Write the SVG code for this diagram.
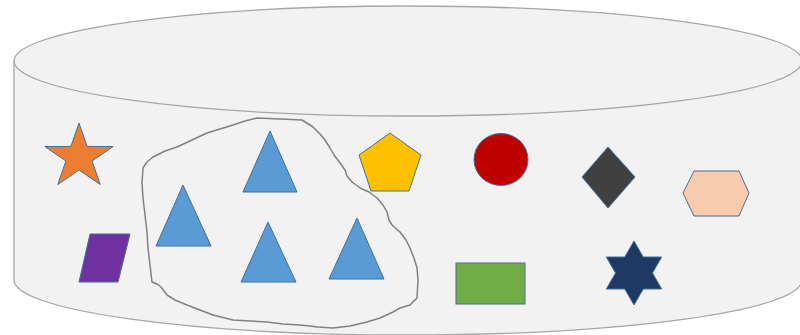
<svg xmlns="http://www.w3.org/2000/svg" width="800" height="335" viewBox="0 0 800 335">
<style>
.cyl{fill:#f2f2f2;stroke:#a6a6a6;stroke-width:1.3}
.shp{stroke:#41719c;stroke-width:1}
.tri{fill:#5b9bd5;stroke:#41719c;stroke-width:1}
.blob{fill:none;stroke:#808080;stroke-width:1.5;stroke-linejoin:round}
</style>
<rect width="800" height="335" fill="#ffffff"/>
<g id="cylinder">
<path class="cyl" d="M14,61 L14,280 A394,55 0 0 0 802,280 L802,61 Z"/>
<ellipse class="cyl" cx="408" cy="61" rx="394" ry="55"/>
</g>
<g id="group-outline">
<path class="blob" d="M257,118 L280,119 L302,120 L313,127 L320,134 L325,140 L330,148 L334,155 L340,163 L345,170 L347,176 L352,182 L360,188 L369,192 L377,198 L383,205 L387,212 L389,220 L392,225 L400,232 L406,240 L410,248 L414,258 L417,268 L418,280 L417,298 L410,305 L400,308 L393,312 L380,318 L367,322 L350,326 L333,328 L318,327 L300,325 L283,324 L267,322 L250,321 L233,320 L213,315 L200,310 L187,305 L175,300 L167,295 L161,287 L157,284 L152,282 L150,265 L148,248 L147,232 L145,215 L143,198 L142,183 L143,168 L147,162 L153,157 L165,151 L177,147 L192,140 L207,133 L220,129 L233,125 L245,121 Z"/>
</g>
<g id="star5"><polygon class="shp" fill="#ed7d31" points="79,123 87.1,146.5 113.2,146.5 92.1,161 100.2,184.5 79,170 57.8,184.5 65.9,161 44.8,146.5 70.9,146.5"/></g>
<g id="parallelogram"><polygon class="shp" fill="#7030a0" points="90,234 130,234 118,282 79,282"/></g>
<g id="triangle1"><polygon class="tri" points="270,131 297,192 243,192"/></g>
<g id="triangle2"><polygon class="tri" points="183,185 211,246 156,246"/></g>
<g id="triangle3"><polygon class="tri" points="268,222 296,282 241,282"/></g>
<g id="triangle4"><polygon class="tri" points="357,218 384,279 329,279"/></g>
<g id="pentagon"><polygon class="shp" fill="#ffc000" points="390,133 421,155 409,191 371,191 359,155"/></g>
<g id="circle"><ellipse class="shp" fill="#c00000" cx="501" cy="159.5" rx="27" ry="26"/></g>
<g id="diamond"><polygon class="shp" fill="#404040" points="608,147 635,177 608,208 582,177"/></g>
<g id="hexagon"><polygon class="shp" fill="#f8cbad" points="694,171 739,171 749,193 739,216 694,216 683,193"/></g>
<g id="rectangle"><rect class="shp" fill="#70ad47" x="456" y="263" width="69" height="41"/></g>
<g id="star6"><polygon class="shp" fill="#1f3864" points="634,241 643.25,257 661.7,257 652.5,273 661.7,289 643.25,289 634,305 624.75,289 606.3,289 615.5,273 606.3,257 624.75,257"/></g>
</svg>
